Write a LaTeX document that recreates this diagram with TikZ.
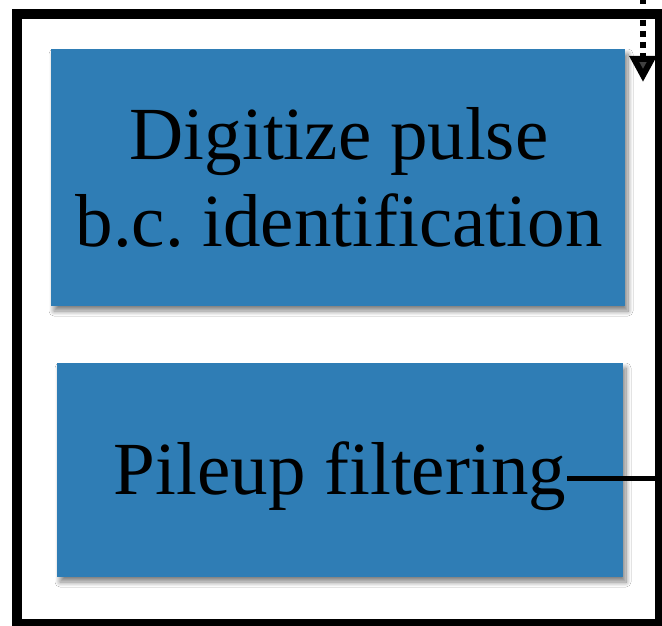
\documentclass[tikz,border=0pt]{standalone}
\usepackage{fontspec}
\setmainfont{Liberation Serif}
\frenchspacing
\usetikzlibrary{arrows.meta,shadows.blur}
\definecolor{stageblue}{RGB}{47,125,181}
\tikzset{
  stage/.style={fill=stageblue, draw=none,
    blur shadow={shadow xshift=3pt, shadow yshift=-5pt,
      shadow blur radius=5pt, shadow blur steps=10, shadow opacity=50}},
  label/.style={inner sep=0pt, anchor=base, font=\fontsize{75}{88}\selectfont},
  frame/.style={draw=black, line width=10pt},
  feed/.style={line width=6pt, dash pattern=on 6pt off 5pt,
    -{Triangle[length=26pt,width=26pt]}},
  link/.style={line width=5pt}
}
\begin{document}
\begin{tikzpicture}[x=1pt,y=-1pt]
  \useasboundingbox (0,0) rectangle (662,626);
  \clip (0,0) rectangle (662,626);
  \fill[white] (0,0) rectangle (662,626);
  % outer frame
  \draw[frame] (16.5,14.5) rectangle (659.5,623.5);
  % processing stages
  \path[stage] (51,49) rectangle (625,306);
  \path[stage] (57,363) rectangle (623,577);
  \node[label] (digitize) at (339,160) {Digitize pulse};
  \node[label] (bcid) at (339,246) {b.c. identification};
  \node[label] (pileup) at (340,494) {Pileup filtering};
  % incoming feed and outgoing link
  \coordinate (feedin) at (643,-2);
  \coordinate (feedtip) at (643,82);
  \draw[feed] (feedin) -- (feedtip);
  \coordinate (linkout) at (658,478);
  \draw[link] (pileup.east |- linkout) ++(1,0) -- (linkout);
\end{tikzpicture}
\end{document}
